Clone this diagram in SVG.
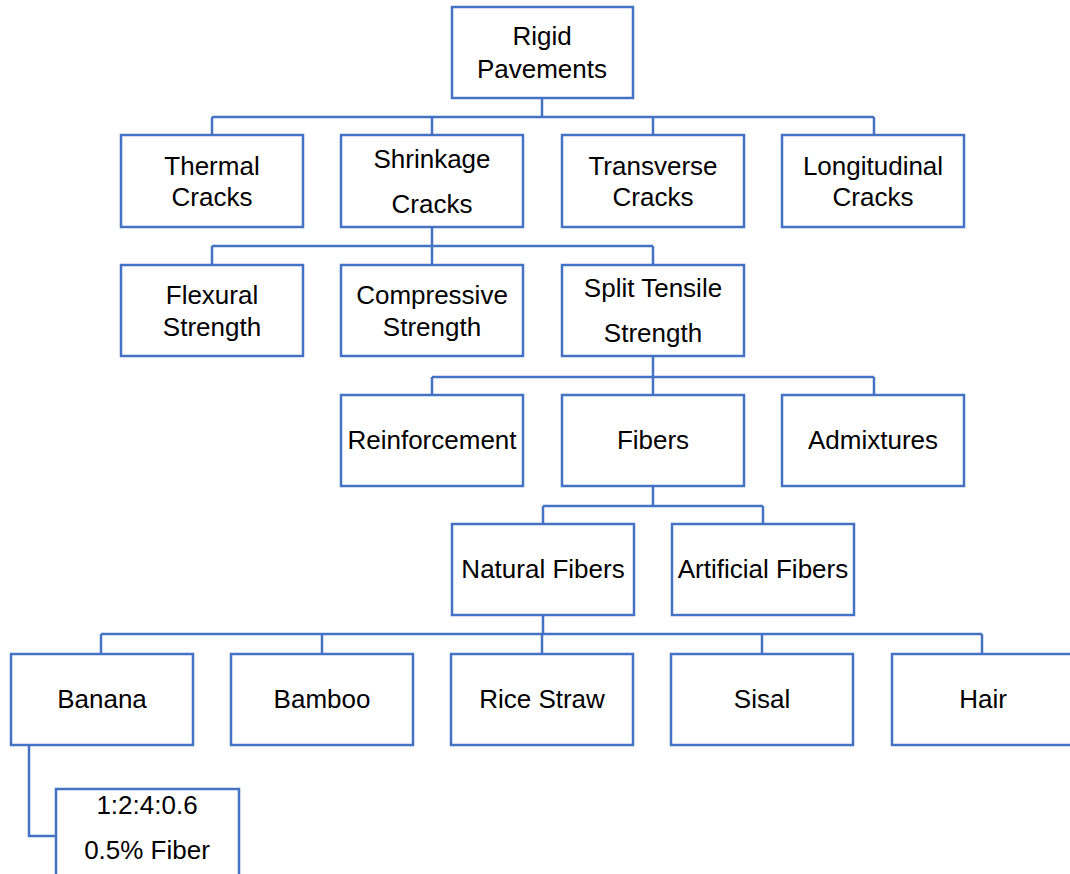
<svg xmlns="http://www.w3.org/2000/svg" width="1070" height="874" viewBox="0 0 1070 874">
<style>
.b{fill:#fff;stroke:#4472C4;stroke-width:2.5}
.c{fill:none;stroke:#4472C4;stroke-width:2.5}
text{font-family:"Liberation Sans",Arial,sans-serif;font-size:26px;fill:#000;text-anchor:middle}
</style>
<rect width="1070" height="874" fill="#fff"/>
<g id="connectors">
<path class="c" d="M542 98V117M212 117H874M212 117V135M432 117V135M653 117V135M874 117V135"/>
<path class="c" d="M432 227V246M212 246H653M212 246V265M432 246V265M653 246V265"/>
<path class="c" d="M653 356V377M432 377H874M432 377V395M653 377V395M874 377V395"/>
<path class="c" d="M653 486V506M543 506H763M543 506V524M763 506V524"/>
<path class="c" d="M543 615V634M101 634H982M101 634V654M322 634V654M542 634V654M762 634V654M982 634V654"/>
<path class="c" d="M29 745V836H56"/>
</g>
<g id="n-root"><rect class="b" x="452" y="7" width="181" height="91"/><text x="542" y="45">Rigid</text><text x="542" y="78">Pavements</text></g>
<g id="n-thermal"><rect class="b" x="121" y="135" width="182" height="92"/><text x="212" y="175">Thermal</text><text x="212" y="206">Cracks</text></g>
<g id="n-shrinkage"><rect class="b" x="341" y="135" width="182" height="92"/><text x="432" y="168">Shrinkage</text><text x="432" y="213">Cracks</text></g>
<g id="n-transverse"><rect class="b" x="562" y="135" width="182" height="92"/><text x="653" y="175">Transverse</text><text x="653" y="206">Cracks</text></g>
<g id="n-longitudinal"><rect class="b" x="782" y="135" width="182" height="92"/><text x="873" y="175">Longitudinal</text><text x="873" y="206">Cracks</text></g>
<g id="n-flexural"><rect class="b" x="121" y="265" width="182" height="91"/><text x="212" y="304">Flexural</text><text x="212" y="336">Strength</text></g>
<g id="n-compressive"><rect class="b" x="341" y="265" width="182" height="91"/><text x="432" y="304">Compressive</text><text x="432" y="336">Strength</text></g>
<g id="n-split"><rect class="b" x="562" y="265" width="182" height="91"/><text x="653" y="297">Split Tensile</text><text x="653" y="342">Strength</text></g>
<g id="n-reinforcement"><rect class="b" x="341" y="395" width="182" height="91"/><text x="432" y="449">Reinforcement</text></g>
<g id="n-fibers"><rect class="b" x="562" y="395" width="182" height="91"/><text x="653" y="449">Fibers</text></g>
<g id="n-admixtures"><rect class="b" x="782" y="395" width="182" height="91"/><text x="873" y="449">Admixtures</text></g>
<g id="n-natural"><rect class="b" x="452" y="524" width="182" height="91"/><text x="543" y="578">Natural Fibers</text></g>
<g id="n-artificial"><rect class="b" x="672" y="524" width="182" height="91"/><text x="763" y="578">Artificial Fibers</text></g>
<g id="n-banana"><rect class="b" x="11" y="654" width="182" height="91"/><text x="102" y="708">Banana</text></g>
<g id="n-bamboo"><rect class="b" x="231" y="654" width="182" height="91"/><text x="322" y="708">Bamboo</text></g>
<g id="n-rice"><rect class="b" x="451" y="654" width="182" height="91"/><text x="542" y="708">Rice Straw</text></g>
<g id="n-sisal"><rect class="b" x="671" y="654" width="182" height="91"/><text x="762" y="708">Sisal</text></g>
<g id="n-hair"><rect class="b" x="892" y="654" width="182" height="91"/><text x="983" y="708">Hair</text></g>
<g id="n-mix"><rect class="b" x="56" y="789" width="183" height="92"/><text x="147" y="814">1:2:4:0.6</text><text x="147" y="859">0.5% Fiber</text></g>
</svg>
